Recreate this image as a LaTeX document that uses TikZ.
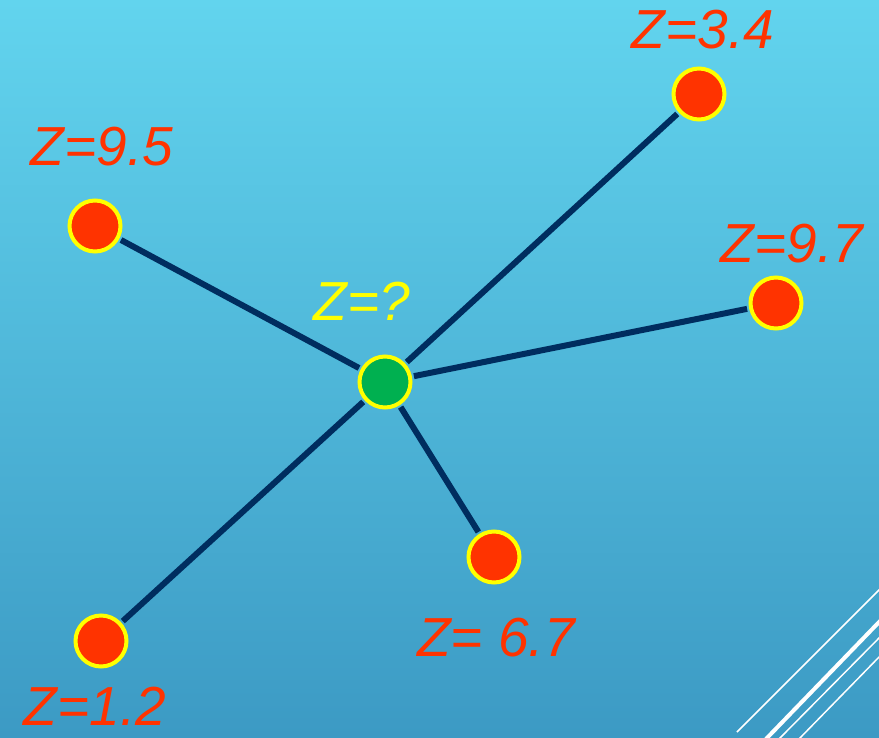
\documentclass[tikz,border=0pt]{standalone}
\usepackage{fontspec}
\setmainfont{Liberation Sans}
\usepackage{tikz}
\usetikzlibrary{positioning}
\definecolor{zred}{RGB}{255,51,0}
\definecolor{zyellow}{RGB}{255,255,0}
\definecolor{zgreen}{RGB}{0,176,80}
\definecolor{navy}{RGB}{0,45,95}
\definecolor{skytop}{RGB}{98,212,238}
\definecolor{skybot}{RGB}{60,154,196}

\begin{document}
\begin{tikzpicture}[x=1pt,y=-1pt,
    well/.style={circle,draw=zyellow,line width=4pt,fill=zred,minimum size=51pt,inner sep=0pt},
    zlab/.style={text=zred,inner sep=0pt,font=\fontsize{55}{60}\selectfont\itshape},
    link/.style={navy,line width=6pt,shorten <=2pt,shorten >=2pt},
    stripe/.style={white,line width=1.5pt}]
    \useasboundingbox (0,0) rectangle (879,737);
    \fill[top color=skytop,bottom color=skybot] (0,0) rectangle (879,737);

    % corner stripes
    \begin{scope}
        \clip (0,0) rectangle (879,737);
        \draw[stripe] (737,732) -- (882,587);
        \draw[stripe,line width=4pt] (766,739) -- (882,619);
        \draw[stripe] (779,739) -- (882,635);
        \draw[stripe] (799,739) -- (882,654);
    \end{scope}

    % wells
    \node[well,fill=zgreen] (q) at (385,382) {};
    \node[well] (34) at (699,94) {};
    \node[well] (95) at (95,226) {};
    \node[well] (97) at (776,303) {};
    \node[well] (67) at (494,557) {};
    \node[well] (12) at (101,641) {};

    \draw[link] (q) -- (34);
    \draw[link] (q) -- (95);
    \draw[link] (q) -- (97);
    \draw[link] (q) -- (67);
    \draw[link] (q) -- (12);

    % values
    \node[zlab,text=zyellow] (lq) at (362,301) {Z=?};
    \node[zlab] (l34) at (703,30) {Z=3.4};
    \node[zlab] (l95) at (102,147) {Z=9.5};
    \node[zlab] (l97) at (792,244) {Z=9.7};
    \node[zlab] (l67) at (496,638) {Z= 6.7};
    \node[zlab] (l12) at (95,706) {Z=1.2};
\end{tikzpicture}
\end{document}
